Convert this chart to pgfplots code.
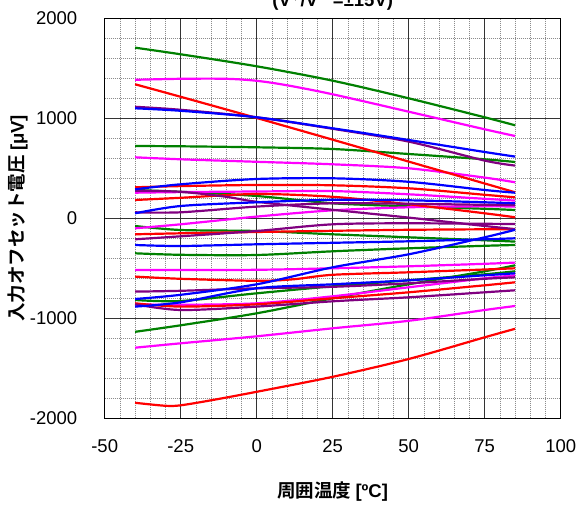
\documentclass[border=0pt]{standalone}
\usepackage{pgfplots}
\pgfplotsset{compat=1.18}
\usepackage{fontspec}
\setmainfont{Liberation Sans}
\newfontfamily\cjk{Noto Sans CJK JP}[BoldFont={Noto Sans CJK JP Bold}]
\definecolor{cgreen}{RGB}{0,128,0}
\definecolor{cmag}{RGB}{255,0,255}
\definecolor{cred}{RGB}{255,0,0}
\definecolor{cpur}{RGB}{128,0,128}
\definecolor{cblue}{RGB}{0,0,255}
\begin{document}
\begin{tikzpicture}
\begin{axis}[name=ax, scale only axis, width=456pt, height=400pt,
  xmin=-50, xmax=100, ymin=-2000, ymax=2000,
  xtick={-50,-25,0,25,50,75,100}, ytick={-2000,-1000,0,1000,2000},
  minor x tick num=4, minor y tick num=4,
  grid=both,
  major grid style={black!80, line width=0.9pt},
  minor grid style={gray!90, line width=0.7pt, dash pattern=on 1pt off 1pt},
  axis line style={black, line width=1.3pt},
  tick style={draw=none},
  ticklabel style={font=\fontsize{18.5}{22}\selectfont},
  /pgf/number format/assume math mode=true,
  /pgf/number format/set thousands separator={},
  yticklabel style={xshift=-24pt},
  xticklabel style={yshift=-18pt},
  xlabel={\bfseries\cjk 周囲温度\ \rmfamily\bfseries [ºC]},
  ylabel={\bfseries\cjk 入力オフセット電圧\ \rmfamily\bfseries [μV]},
  label style={font=\fontsize{18.5}{22}\selectfont},
  xlabel style={at={(axis description cs:0.5,-0.182)}, anchor=center},
  ylabel style={at={(axis description cs:-0.190,0.5)}, anchor=center},
  every axis plot/.append style={line width=2.2pt, smooth, no marks},
]
% greens
\addplot[cgreen] coordinates {(-40,1706)(-25,1640)(0,1520)(25,1376)(50,1200)(75,1010)(85,930)};
\addplot[cgreen] coordinates {(-40,723)(-25,720)(0,710)(25,693)(50,643)(75,590)(85,563)};
\addplot[cgreen] coordinates {(-40,283)(-25,265)(0,223)(25,150)(50,120)(75,95)(85,83)};
\addplot[cgreen] coordinates {(-40,-77)(-25,-117)(0,-127)(25,-160)(50,-190)(75,-220)(85,-233)};
\addplot[cgreen] coordinates {(-40,-350)(-25,-365)(0,-367)(25,-330)(50,-300)(75,-275)(85,-267)};
\addplot[cgreen] coordinates {(-40,-817)(-25,-827)(0,-750)(25,-680)(50,-620)(75,-560)(85,-530)};
\addplot[cgreen] coordinates {(-40,-1135)(-25,-1070)(0,-950)(25,-800)(50,-660)(75,-530)(85,-470)};
% magentas
\addplot[cmag] coordinates {(-40,1385)(-25,1395)(-10,1395)(0,1375)(10,1330)(25,1240)(50,1066)(75,890)(85,823)};
\addplot[cmag] coordinates {(-40,610)(-25,590)(0,565)(25,540)(50,500)(75,407)(85,360)};
\addplot[cmag] coordinates {(-40,256)(-25,262)(0,268)(25,272)(50,240)(75,195)(85,177)};
\addplot[cmag] coordinates {(-40,-100)(-25,-60)(0,17)(25,80)(50,110)(75,120)(85,117)};
\addplot[cmag] coordinates {(-40,-517)(-25,-517)(0,-515)(25,-500)(50,-480)(75,-455)(85,-443)};
\addplot[cmag] coordinates {(-40,-860)(-25,-865)(0,-850)(25,-780)(50,-690)(75,-600)(85,-570)};
\addplot[cmag] coordinates {(-40,-1294)(-25,-1250)(0,-1180)(25,-1100)(50,-1025)(75,-917)(85,-877)};
% reds
\addplot[cred] coordinates {(-40,1340)(-25,1215)(0,1003)(25,786)(50,567)(75,348)(85,260)};
\addplot[cred] coordinates {(-40,310)(-25,322)(0,333)(25,330)(50,300)(75,235)(85,210)};
\addplot[cred] coordinates {(-40,183)(-25,205)(0,243)(25,215)(50,140)(75,50)(85,10)};
\addplot[cred] coordinates {(-40,-160)(-25,-150)(0,-137)(25,-125)(50,-115)(75,-110)(85,-110)};
\addplot[cred] coordinates {(-40,-583)(-25,-605)(0,-625)(12,-610)(25,-565)(50,-540)(75,-512)(85,-500)};
\addplot[cred] coordinates {(-40,-850)(-25,-883)(0,-860)(25,-800)(50,-740)(75,-670)(85,-640)};
\addplot[cred] coordinates {(-40,-1845)(-30,-1875)(-25,-1870)(-15,-1820)(0,-1735)(25,-1585)(50,-1407)(75,-1190)(85,-1105)};
% purples
\addplot[cpur] coordinates {(-40,1115)(-25,1085)(0,1010)(25,895)(50,767)(75,577)(85,527)};
\addplot[cpur] coordinates {(-40,276)(-25,265)(-10,215)(0,165)(25,85)(50,7)(75,-77)(85,-108)};
\addplot[cpur] coordinates {(-40,60)(-25,60)(0,117)(25,150)(50,145)(75,135)(85,133)};
\addplot[cpur] coordinates {(-40,-210)(-25,-180)(0,-127)(25,-60)(50,-50)(75,-55)(85,-57)};
\addplot[cpur] coordinates {(-40,-733)(-25,-725)(0,-700)(25,-685)(50,-650)(75,-605)(85,-590)};
\addplot[cpur] coordinates {(-40,-860)(-25,-917)(0,-883)(25,-830)(50,-790)(75,-740)(85,-720)};
% blues
\addplot[cblue] coordinates {(-40,1100)(-25,1075)(0,1010)(25,900)(50,783)(75,663)(85,617)};
\addplot[cblue] coordinates {(-40,290)(-25,340)(0,393)(25,400)(50,365)(75,283)(85,256)};
\addplot[cblue] coordinates {(-40,50)(-25,123)(0,160)(25,185)(50,180)(75,160)(85,150)};
\addplot[cblue] coordinates {(-40,-267)(-25,-277)(0,-260)(25,-245)(50,-230)(75,-210)(85,-200)};
\addplot[cblue] coordinates {(-40,-807)(-25,-765)(0,-660)(25,-490)(50,-360)(75,-190)(85,-115)};
\addplot[cblue] coordinates {(-40,-883)(-25,-840)(0,-700)(25,-660)(50,-620)(75,-570)(85,-550)};
\end{axis}
\node[anchor=base, font=\fontsize{18.5}{22}\selectfont\bfseries] at ([yshift=11.3pt]ax.north) {(V$^{+}$/V$^{-}$ =±15V)};
\pgfresetboundingbox
\path[use as bounding box] ([xshift=-104.7pt,yshift=-87.7pt]ax.south west) rectangle ([xshift=20.3pt,yshift=18.3pt]ax.north east);
\end{tikzpicture}
\end{document}
